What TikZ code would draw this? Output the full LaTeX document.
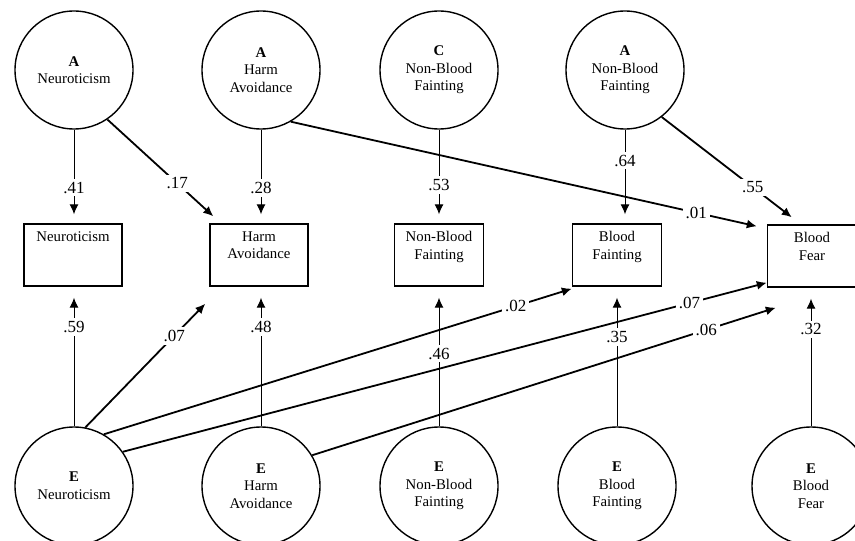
\documentclass[tikz,border=0pt]{standalone}
\usepackage{fontspec}
\setmainfont{Liberation Serif}
\usetikzlibrary{arrows.meta,positioning,calc}
\tikzset{
  latent/.style={circle, draw, line width=0.7pt, minimum size=59pt, inner sep=0pt, align=center, font=\fontsize{7.4}{8.8}\selectfont},
  obsbox/.style={rectangle, draw, line width=0.7pt, minimum height=31pt, inner sep=0pt},
  boxtext/.style={inner sep=0pt, align=center, font=\fontsize{7.4}{8.8}\selectfont},
  coef/.style={fill=white, inner sep=1.5pt, font=\fontsize{8.5}{10}\selectfont},
  arr/.style={-{Latex[length=5pt,width=4.5pt]}, line width=0.5pt},
  darr/.style={-{Latex[length=5pt,width=4.5pt]}, line width=0.9pt}
}

\begin{document}
\begin{tikzpicture}[x=0.5pt,y=-0.5pt]
\useasboundingbox (0,0) rectangle (855,540);

% genetic and common factors
\node[latent] (aN) at (74,70) {\textbf{A}\\Neuroticism};
\node[latent] (aH) at (261,70) {\textbf{A}\\Harm\\Avoidance};
\node[latent] (cNB) at (439,70) {\textbf{C}\\Non-Blood\\Fainting};
\node[latent] (aNB) at (625,70) {\textbf{A}\\Non-Blood\\Fainting};

% measured variables
\node[obsbox,minimum width=49pt] (bN) at (73,255) {};
\node[obsbox,minimum width=49pt] (bH) at (259,255) {};
\node[obsbox,minimum width=44.5pt] (bNB) at (439,255) {};
\node[obsbox,minimum width=44.5pt] (bBF) at (617,255) {};
\node[obsbox,minimum width=44.5pt] (bFear) at (812,256) {};
\node[boxtext,below=4pt of bN.north] (bNt) {Neuroticism};
\node[boxtext,below=4pt of bH.north] (bHt) {Harm\\Avoidance};
\node[boxtext,below=4pt of bNB.north] (bNBt) {Non-Blood\\Fainting};
\node[boxtext,below=4pt of bBF.north] (bBFt) {Blood\\Fainting};
\node[boxtext,below=4pt of bFear.north] (bFeart) {Blood\\Fear};

% unique environment
\node[latent] (eN) at (74,486) {\textbf{E}\\Neuroticism};
\node[latent] (eH) at (261,486) {\textbf{E}\\Harm\\Avoidance};
\node[latent] (eNB) at (439,486) {\textbf{E}\\Non-Blood\\Fainting};
\node[latent] (eBF) at (617,486) {\textbf{E}\\Blood\\Fainting};
\node[latent] (eFear) at (811,486) {\textbf{E}\\Blood\\Fear};

% paths from above
\draw[arr,shorten >=4.5pt] (aN) -- (aN |- bN.north) node[coef,pos=0.62] (pAN) {.41};
\draw[arr,shorten >=4.5pt] (aH) -- (aH |- bH.north) node[coef,pos=0.62] (pAH) {.28};
\draw[arr,shorten >=4.5pt] (cNB) -- (cNB |- bNB.north) node[coef,pos=0.59] (pCNB) {.53};
\draw[arr,shorten >=4.5pt] (aNB) -- (aNB |- bBF.north) node[coef,pos=0.33] (pANB) {.64};
\draw[darr] (aN.-56) -- ($(bH.north west)+(4,-7)$) node[coef,pos=0.66] (pANH) {.17};
\draw[darr] (aH.-60) -- ($(bFear.north west)+(-10,2)$) node[coef,pos=0.87] (pAHF) {.01};
\draw[darr] (aNB.-52) -- ($(bFear.north west)+(25,-7)$) node[coef,pos=0.70] (pANBF) {.55};

% paths from below
\draw[arr,shorten >=5.5pt] (eN) -- (eN |- bN.south) node[coef,pos=0.71] (pEN) {.59};
\draw[arr,shorten >=5.5pt] (eH) -- (eH |- bH.south) node[coef,pos=0.71] (pEH) {.48};
\draw[arr,shorten >=5.5pt] (eNB) -- (eNB |- bNB.south) node[coef,pos=0.52] (pENB) {.46};
\draw[arr,shorten >=5.5pt] (eBF) -- (eBF |- bBF.south) node[coef,pos=0.64] (pEBF) {.35};
\draw[arr,shorten >=5.5pt] (eFear) -- (eFear |- bFear.south) node[coef,pos=0.70] (pEFear) {.32};
\draw[darr] (eN.79) -- ($(bH.south west)+(-4,17)$) node[coef,pos=0.74] (pENH) {.07};
\draw[darr] (eN.60) -- ($(bBF.south west)+(0,2)$) node[coef,pos=0.88] (pENBF) {.02};
\draw[darr] (eN.35) -- ($(bFear.south west)+(0,-5)$) node[coef,pos=0.88] (pENF) {.07};
\draw[darr] (eH.31) -- ($(bFear.south west)+(9,20)$) node[coef,pos=0.85] (pEHF) {.06};
\end{tikzpicture}
\end{document}
